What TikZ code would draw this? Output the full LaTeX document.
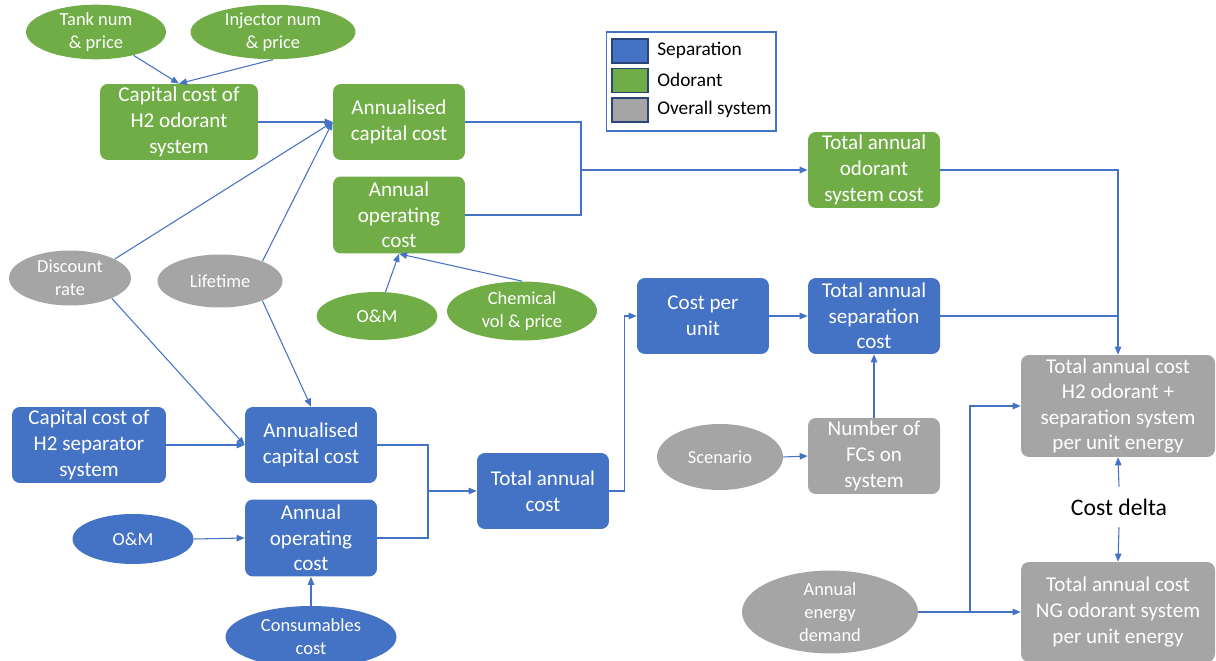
\documentclass[tikz,border=0pt]{standalone}
\usepackage{fontspec}
\setmainfont{Carlito}
\usetikzlibrary{arrows.meta,shapes.geometric}

\definecolor{sepblue}{HTML}{4472C4}
\definecolor{odgreen}{HTML}{70AD47}
\definecolor{sysgray}{HTML}{A5A5A5}

\begin{document}
\begin{tikzpicture}[
  x=0.02cm,
  y=-0.02cm,
  box/.style={
    rectangle,
    rounded corners=4.5pt,
    minimum width=2.64cm,
    minimum height=1.52cm,
    inner sep=1pt,
    align=center,
    text=white,
    font=\fontsize{12}{14.6}\selectfont
  },
  sepbox/.style={box, fill=sepblue},
  odbox/.style={box, fill=odgreen},
  sysbox/.style={box, fill=sysgray},
  input/.style={
    ellipse,
    inner sep=0pt,
    align=center,
    text=white,
    font=\fontsize{10.5}{13}\selectfont
  },
  link/.style={
    draw=sepblue,
    line width=0.6pt,
    -{Triangle[length=1.6mm,width=1.3mm]}
  },
  joint/.style={
    draw=sepblue,
    line width=0.6pt
  },
  swatch/.style={
    rectangle,
    draw=sepblue!60!black,
    line width=0.6pt,
    minimum width=0.72cm,
    minimum height=0.48cm,
    inner sep=0pt
  },
  legendtext/.style={
    anchor=west,
    inner sep=0pt,
    font=\fontsize{11}{13}\selectfont
  }
]

\path[use as bounding box] (0,0) rectangle (1216,661);

% odorant branch
\node[input, fill=odgreen, minimum width=2.8cm, minimum height=1.04cm] (tank) at (96,32) {Tank num\\\& price};
\node[input, fill=odgreen, minimum width=3.3cm, minimum height=1.04cm] (inj) at (273,32) {Injector num\\\& price};
\node[odbox, minimum width=3.16cm] (capod) at (179,122) {Capital cost of\\H2 odorant\\system};
\node[odbox] (annod) at (399,122) {Annualised\\capital cost};
\node[odbox, minimum height=1.54cm] (opod) at (399,215) {Annual\\operating\\cost};
\node[odbox] (totod) at (874,170) {Total annual\\odorant\\system cost};
\node[input, fill=odgreen, minimum width=2.42cm, minimum height=0.96cm] (omod) at (377,316) {O\&M};
\node[input, fill=odgreen, minimum width=3.0cm, minimum height=1.18cm] (chem) at (522,311) {Chemical\\vol \& price};

% shared inputs
\node[input, fill=sysgray, minimum width=2.44cm, minimum height=1.1cm] (disc) at (70,278) {Discount\\rate};
\node[input, fill=sysgray, minimum width=2.5cm, minimum height=1.06cm] (life) at (220,281) {Lifetime};

% separation branch
\node[sepbox, minimum width=3.08cm] (capsep) at (89,445) {Capital cost of\\H2 separator\\system};
\node[sepbox] (annsep) at (311,445) {Annualised\\capital cost};
\node[sepbox, minimum height=1.54cm] (opsep) at (311,538) {Annual\\operating\\cost};
\node[input, fill=sepblue, minimum width=2.42cm, minimum height=1.0cm] (omsep) at (133,539) {O\&M};
\node[input, fill=sepblue, minimum width=3.42cm, minimum height=1.24cm] (cons) at (311,637) {Consumables\\cost};
\node[sepbox] (totann) at (543,491) {Total annual\\cost};
\node[sepbox] (cpu) at (703,316) {Cost per\\unit};
\node[sepbox] (totsep) at (874,316) {Total annual\\separation\\cost};
\node[input, fill=sysgray, minimum width=2.52cm, minimum height=1.32cm] (scen) at (720,457) {Scenario};
\node[sysbox] (nfc) at (874,456) {Number of\\FCs on\\system};

% overall system
\node[sysbox, minimum width=3.88cm, minimum height=2.04cm] (totall) at (1118,406) {Total annual cost\\H2 odorant +\\separation system\\per unit energy};
\node[sysbox, minimum width=3.88cm, minimum height=2.0cm] (totng) at (1118,612) {Total annual cost\\NG odorant system\\per unit energy};
\node[input, fill=sysgray, minimum width=3.52cm, minimum height=1.64cm] (energy) at (830,612) {Annual\\energy\\demand};
\node[inner sep=0pt, minimum height=0.8cm, font=\fontsize{13.5}{16}\selectfont] (delta) at (1119,507) {Cost delta};

% legend
\node[draw=sepblue, line width=0.6pt, minimum width=3.4cm, minimum height=1.98cm, inner sep=0pt] (legend) at (691,81.5) {};
\node[swatch, fill=sepblue] (swsep) at (630,51) {};
\node[swatch, fill=odgreen] (swod) at (630,80.5) {};
\node[swatch, fill=sysgray] (swsys) at (630,110) {};
\node[legendtext] (lgsep) at (657,50) {Separation};
\node[legendtext] (lgod) at (657,80) {Odorant};
\node[legendtext] (lgsys) at (657,109) {Overall system};

\coordinate (odjoin) at (581,170);
\coordinate (sepjoin) at (428,491);
\coordinate (enjoin) at (970,612);

\draw[link] (tank) -- (capod.north);
\draw[link] (inj.south) -- (capod.north);
\draw[link] (capod.east) -- (annod.west);
\draw[link] (disc.23) -- (annod.west);
\draw[link] (life.25) -- (annod.west);
\draw[link] (omod) -- (opod.south);
\draw[link] (chem.north) -- (opod.south);
\draw[joint] (annod.east) -| (odjoin);
\draw[joint] (opod.east) -| (odjoin);
\draw[link] (odjoin) -- (totod.west);

\draw[link] (disc.-26) -- (annsep.west);
\draw[link] (life.-25) -- (annsep.north);
\draw[link] (capsep.east) -- (annsep.west);
\draw[link] (omsep.east) -- (opsep.west);
\draw[link] (cons.north) -- (opsep.south);
\draw[joint] (annsep.east) -| (sepjoin);
\draw[joint] (opsep.east) -| (sepjoin);
\draw[link] (sepjoin) -- (totann.west);
\draw[link] (totann.east) -- ++(15,0) |- (cpu.west);
\draw[link] (cpu.east) -- (totsep.west);
\draw[link] (nfc.north) -- (totsep.south);
\draw[link] (scen.east) -- (nfc.west);

\draw[link] (totod.east) -| (totall.north);
\draw[joint] (totsep.east) -- (totsep.east -| totall.north);
\draw[link] (energy.east) -- (totng.west);
\draw[link] (enjoin) |- (totall.west);
\draw[link] (delta.north) -- (totall.south);
\draw[link] (delta.south) -- (totng.north);

\end{tikzpicture}
\end{document}
